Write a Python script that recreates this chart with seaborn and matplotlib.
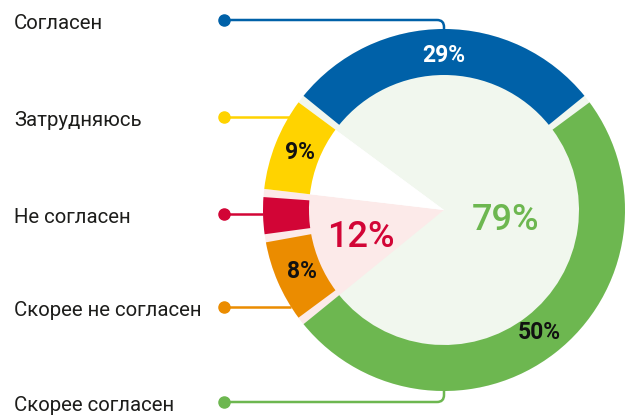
import numpy as np
import matplotlib
matplotlib.use("Agg")
import matplotlib.pyplot as plt
from matplotlib.path import Path
from matplotlib.patches import PathPatch
import seaborn as sns

# Answers in ring order, clockwise from the upper left
categories = ["Согласен", "Скорее согласен", "Скорее не согласен", "Не согласен", "Затрудняюсь"]
shares = [29, 50, 8, 4, 9]
share_labels = ["29%", "50%", "8%", "", "9%"]
ring_hex = ["#0061A8", "#6DB750", "#EB8C00", "#D20536", "#FFD300"]
share_label_colors = ["white", "#111111", "#111111", "#111111", "#111111"]

# Combined groups shown as the inner fill
groups = ["Согласны", "Не согласны", "Затрудняюсь"]
group_shares = [79, 12, 9]
group_labels = ["79%", "12%", ""]
group_fill = ["#F1F7EE", "#FCEAE9", "white"]
group_label_colors = ["#6DB750", "#D20536", "none"]

# Legend rows on the left, top to bottom
legend_order = ["Согласен", "Затрудняюсь", "Не согласен", "Скорее не согласен", "Скорее согласен"]

sns.set_theme(style="white")
plt.rcParams["font.family"] = ["Roboto", "DejaVu Sans"]
palette = sns.color_palette(ring_hex)

W_PX, H_PX = 626, 416
fig = plt.figure(figsize=(W_PX / 100, H_PX / 100), dpi=100)
ax = fig.add_axes([0, 0, 1, 1])

cx, cy = 444, H_PX - 210
R, ring_w = 181, 46
gap = 2.6
start = 90 + shares[0] / sum(shares) * 180

# inner fill by group
fills, _ = ax.pie(group_shares, colors=group_fill, startangle=start, counterclock=False,
                  radius=R, center=(cx, cy), wedgeprops=dict(linewidth=0))
for w, g in zip(fills, groups):
    if g == "Затрудняюсь":
        w.set_theta1(w.theta1 + gap / 2)
        w.set_theta2(w.theta2 - gap / 2)
    else:
        w.set_theta1(w.theta1 - gap / 2)
        w.set_theta2(w.theta2 + gap / 2)

# outer ring by answer, with small gaps
ring, _ = ax.pie(shares, colors=palette, startangle=start, counterclock=False,
                 radius=R, center=(cx, cy), wedgeprops=dict(width=ring_w, linewidth=0))
for w in ring:
    w.set_theta1(w.theta1 + gap / 2)
    w.set_theta2(w.theta2 - gap / 2)

# percentage on each ring segment
r_lab = R - ring_w / 2 - 3
for w, lab, col in zip(ring, share_labels, share_label_colors):
    if not lab:
        continue
    a = np.deg2rad((w.theta1 + w.theta2) / 2)
    ax.text(cx + r_lab * np.cos(a), cy + r_lab * np.sin(a), lab, color=col,
            fontsize=16.5, fontweight="bold", ha="center", va="center")

# group totals inside
group_r = [0.34 * R, 0.48 * R]
group_dy = [-11, -3]
for w, lab, col, r, dy in zip(fills, group_labels, group_label_colors, group_r, group_dy):
    a = np.deg2rad((w.theta1 + w.theta2) / 2)
    ax.text(cx + r * np.cos(a), cy + r * np.sin(a) + dy, lab, color=col,
            fontsize=26, fontweight="medium", ha="center", va="center")

# legend rows with leader lines
row_y = [20, 117, 214, 307, 402]
dot_x, text_x, rc = 224, 14, 7
for name, yi in zip(legend_order, row_y):
    col = palette[categories.index(name)]
    y = H_PX - yi
    dy = y - cy
    if abs(dy) >= R:
        s = 1 if dy > 0 else -1
        verts = [(dot_x, y), (cx - rc, y), (cx, y), (cx, y - s * rc), (cx, cy + s * R)]
        codes = [Path.MOVETO, Path.LINETO, Path.CURVE3, Path.CURVE3, Path.LINETO]
    else:
        verts = [(dot_x, y), (cx - np.sqrt(R ** 2 - dy ** 2), y)]
        codes = [Path.MOVETO, Path.LINETO]
    ax.add_patch(PathPatch(Path(verts, codes), facecolor="none", edgecolor=col,
                           lw=1.8, capstyle="butt", zorder=1))
    ax.plot(dot_x, y, "o", ms=8, color=col, zorder=3)
    ax.text(text_x, y - 9, name, color="#1D1D1B", fontsize=14.7,
            ha="left", va="baseline")

ax.set_xlim(0, W_PX)
ax.set_ylim(0, H_PX)
ax.set_aspect("equal")
ax.axis("off")

fig.savefig("out.png", dpi=100)
